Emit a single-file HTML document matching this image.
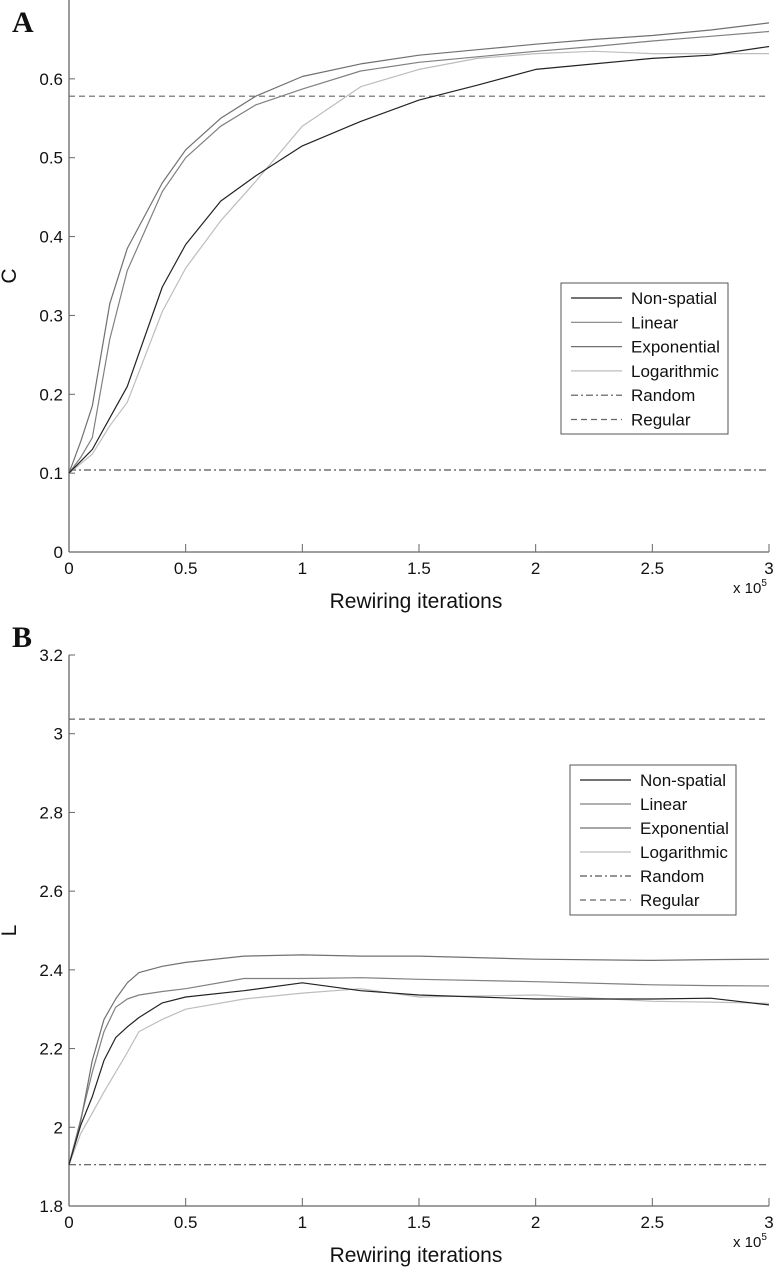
<!DOCTYPE html>
<html><head><meta charset="utf-8"><style>
html,body{margin:0;padding:0;background:#fff;}
svg{display:block;font-family:"Liberation Sans",Arial,sans-serif;}
</style></head><body>
<svg id="fig" width="774" height="1280" viewBox="0 0 774 1280"></svg>
<script>
// ---- shared x data (x 10^5 rewiring iterations) ----
const xTicks = [0, 0.5, 1, 1.5, 2, 2.5, 3];
const xTickLabels = ["0","0.5","1","1.5","2","2.5","3"];

// ---- Panel A: clustering C ----
const aX = [0, 0.05, 0.1, 0.175, 0.25, 0.4, 0.5, 0.65, 0.8, 1.0, 1.25, 1.5, 1.75, 2.0, 2.25, 2.5, 2.75, 3.0];
const aExponential= [0.10, 0.14, 0.185, 0.315, 0.385, 0.468, 0.51, 0.55, 0.578, 0.603, 0.619, 0.63, 0.637, 0.644, 0.65, 0.655, 0.662, 0.671];
const aLinear     = [0.10, 0.12, 0.145, 0.27, 0.357, 0.457, 0.50, 0.54, 0.567, 0.587, 0.61, 0.621, 0.628, 0.635, 0.641, 0.648, 0.654, 0.66];
const aNonSpatial = [0.10, 0.115, 0.13, 0.17, 0.21, 0.336, 0.39, 0.445, 0.477, 0.515, 0.546, 0.573, 0.592, 0.612, 0.619, 0.626, 0.630, 0.641];
const aLog        = [0.10, 0.112, 0.124, 0.16, 0.19, 0.305, 0.36, 0.42, 0.47, 0.54, 0.59, 0.612, 0.626, 0.632, 0.635, 0.632, 0.632, 0.632];
const aRandom = 0.104;
const aRegular = 0.578;
const aYTicks = [0, 0.1, 0.2, 0.3, 0.4, 0.5, 0.6];
const aYTickLabels = ["0","0.1","0.2","0.3","0.4","0.5","0.6"];

// ---- Panel B: path length L ----
const bX = [0, 0.05, 0.1, 0.15, 0.2, 0.25, 0.3, 0.4, 0.5, 0.75, 1.0, 1.25, 1.5, 2.0, 2.5, 2.75, 3.0];
const bNonSpatial = [1.905, 2.005, 2.078, 2.17, 2.228, 2.255, 2.279, 2.316, 2.331, 2.347, 2.367, 2.347, 2.336, 2.326, 2.326, 2.328, 2.311];
const bLinear     = [1.905, 2.02, 2.14, 2.243, 2.305, 2.326, 2.336, 2.345, 2.352, 2.378, 2.378, 2.38, 2.376, 2.37, 2.362, 2.36, 2.359];
const bExponential= [1.905, 2.015, 2.17, 2.274, 2.326, 2.367, 2.393, 2.409, 2.419, 2.435, 2.438, 2.435, 2.435, 2.427, 2.424, 2.426, 2.427];
const bLog        = [1.905, 1.984, 2.036, 2.09, 2.14, 2.19, 2.243, 2.274, 2.30, 2.326, 2.341, 2.352, 2.331, 2.336, 2.32, 2.318, 2.315];
const bRandom = 1.905;
const bRegular = 3.037;
const bYTicks = [1.8, 2, 2.2, 2.4, 2.6, 2.8, 3, 3.2];
const bYTickLabels = ["1.8","2","2.2","2.4","2.6","2.8","3","3.2"];

const legendLabels = ["Non-spatial","Linear","Exponential","Logarithmic","Random","Regular"];

const NS = "http://www.w3.org/2000/svg";
const svg = document.getElementById("fig");
function mk(tag, attrs, parent){
  const e = document.createElementNS(NS, tag);
  for (const k in attrs) if (attrs[k] !== null) e.setAttribute(k, attrs[k]);
  (parent||svg).appendChild(e);
  return e;
}

const styles = [
  {stroke:"#222", dash:null},
  {stroke:"#808080", dash:null},
  {stroke:"#707070", dash:null},
  {stroke:"#bdbdbd", dash:null},
  {stroke:"#555", dash:"7 3 2 3"},
  {stroke:"#666", dash:"6 4"}
];

function panel(cfg){
  const g = mk("g", {});
  
  
  const X0=69, X1=769;
  const xs = v => X0 + v/3*(X1-X0);
  const ys = v => cfg.yBot - (v-cfg.yMin)/(cfg.yMax-cfg.yMin)*(cfg.yBot-cfg.yTop);
  const ax = mk("line",{x1:X0,y1:cfg.yBot,x2:X1,y2:cfg.yBot,stroke:"#666","stroke-width":1.3},g);
  
  
  const ay = mk("line",{x1:X0,y1:cfg.yTop,x2:X0,y2:cfg.yBot,stroke:"#666","stroke-width":1.3},g);
  
  
  xTicks.forEach((t,i)=>{
    const x = xs(t);
    const tk = mk("line",{x1:x,y1:cfg.yBot,x2:x,y2:cfg.yBot-8,stroke:"#666","stroke-width":1},g);
    
    
    const tl = mk("text",{x:x,y:cfg.yBot+22,"font-size":17,"text-anchor":"middle",fill:"#111"},g);
    tl.textContent = xTickLabels[i];
    
    
  });
  cfg.yTicks.forEach((t,i)=>{
    const y = ys(t);
    const tk = mk("line",{x1:X0,y1:y,x2:X0+6,y2:y,stroke:"#666","stroke-width":1},g);
    
    
    const tl = mk("text",{x:X0-6,y:y+6,"font-size":17,"text-anchor":"end",fill:"#111"},g);
    tl.textContent = cfg.yTickLabels[i];
    
    
  });
  const xl = mk("text",{x:416,y:cfg.yBot+56,"font-size":21,"text-anchor":"middle",fill:"#111"},g);
  xl.textContent = "Rewiring iterations";
  
  
  const xm = mk("text",{x:733,y:cfg.yBot+41,"font-size":15,fill:"#111"},g);
  
  
  xm.appendChild(document.createTextNode("x 10"));
  const sup = mk("tspan",{dy:-7,"font-size":10},xm);
  sup.textContent = "5";
  const my = (cfg.yTop+cfg.yBot)/2;
  const yl = mk("text",{x:16,y:my,"font-size":21,"text-anchor":"middle",fill:"#111",transform:`rotate(-90 16 ${my})`},g);
  yl.textContent = cfg.yLabel;
  
  
  const pl = mk("text",{x:12,y:cfg.letterY,"font-size":30,"font-weight":"bold","font-family":"Liberation Serif, serif",fill:"#111"},g);
  pl.textContent = cfg.letter;
  
  
  [[cfg.random,4,'random-line'],[cfg.regular,5,'regular-line']].forEach(([v,si,nm])=>{
    const l = mk("line",{x1:X0,y1:ys(v),x2:X1,y2:ys(v),stroke:styles[si].stroke,"stroke-width":1.2,"stroke-dasharray":styles[si].dash},g);
    
    
  });
  const order = [3,1,2,0];
  const names = ['non-spatial-line','linear-line','exponential-line','logarithmic-line'];
  order.forEach(si=>{
    const ser = cfg.series[si];
    const d = cfg.xv.map((v,i)=>(i?"L":"M")+xs(v).toFixed(1)+","+ys(ser[i]).toFixed(1)).join(" ");
    const p = mk("path",{d:d,fill:"none",stroke:styles[si].stroke,"stroke-width":1.2,"stroke-linejoin":"round"},g);
    
    
  });
  const lg = mk("g",{},g);
  
  
  const L = cfg.legend;
  mk("rect",{x:L.x,y:L.y,width:L.w,height:L.h,fill:"#fff",stroke:"#555","stroke-width":1},lg);
  legendLabels.forEach((lab,i)=>{
    const cy = L.y+15+i*L.step;
    const ent = mk("g",{},lg);
    
    
    mk("line",{x1:L.x+10,y1:cy,x2:L.x+61,y2:cy,stroke:styles[i].stroke,"stroke-width":1.2,"stroke-dasharray":styles[i].dash},ent);
    const t = mk("text",{x:L.x+70,y:cy+6,"font-size":17,fill:"#111"},ent);
    t.textContent = lab;
  });
}

panel({name:"panel-a-clustering", yTop:0, yBot:552, yMin:0, yMax:0.7, yTicks:aYTicks, yTickLabels:aYTickLabels,
  yLabel:"C", letter:"A", letterY:32, xv:aX, series:[aNonSpatial,aLinear,aExponential,aLog],
  random:aRandom, regular:aRegular, legend:{x:561,y:283,w:167,h:151,step:24.3}});
panel({name:"panel-b-path-length", yTop:655, yBot:1206, yMin:1.8, yMax:3.2, yTicks:bYTicks, yTickLabels:bYTickLabels,
  yLabel:"L", letter:"B", letterY:647, xv:bX, series:[bNonSpatial,bLinear,bExponential,bLog],
  random:bRandom, regular:bRegular, legend:{x:570,y:765,w:166,h:150,step:24}});
</script>
</body></html>
